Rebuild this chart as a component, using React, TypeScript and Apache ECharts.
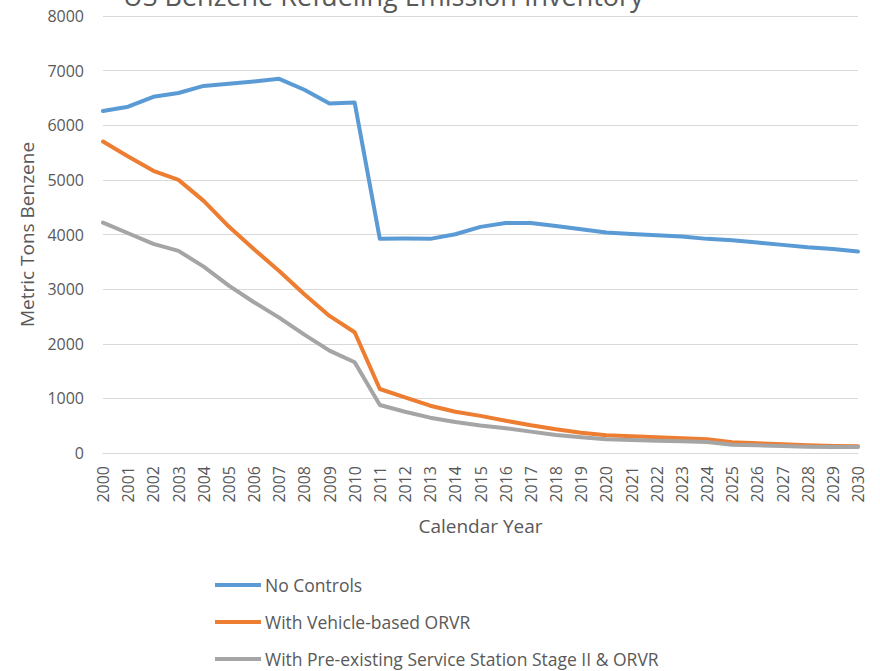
import React, { useEffect, useRef } from "react";
import * as echarts from "echarts";

const years = [
  "2000","2001","2002","2003","2004","2005","2006","2007","2008","2009",
  "2010","2011","2012","2013","2014","2015","2016","2017","2018","2019",
  "2020","2021","2022","2023","2024","2025","2026","2027","2028","2029","2030",
];

const noControls = [
  6260, 6340, 6520, 6590, 6720, 6760, 6800, 6850, 6650, 6400,
  6415, 3920, 3925, 3920, 4005, 4140, 4210, 4210, 4157, 4097,
  4035, 4011, 3986, 3962, 3920, 3895, 3852, 3810, 3767, 3736, 3687,
];

const vehicleORVR = [
  5702, 5427, 5165, 5000, 4615, 4145, 3730, 3333, 2906, 2509,
  2210, 1172, 1020, 866, 756, 680, 592, 507, 434, 372,
  324, 305, 287, 269, 251, 196, 178, 159, 141, 130, 125,
];

const stageIIORVR = [
  4218, 4023, 3828, 3700, 3412, 3064, 2760, 2478, 2167, 1874,
  1661, 879, 756, 647, 568, 505, 455, 391, 330, 287,
  251, 238, 226, 214, 201, 152, 141, 128, 115, 110, 108,
];

const seriesNames = [
  "No Controls",
  "With Vehicle-based ORVR",
  "With Pre-existing Service Station Stage II & ORVR",
];

const titleText = "US Benzene Refueling Emission Inventory";

export default function App() {
  const ref = useRef<HTMLDivElement>(null);
  useEffect(() => {
    document.body.style.margin = "0";
    if (!ref.current) return;
    const chart = echarts.init(ref.current, null, { renderer: "svg" });
    const font = "'Open Sans', 'Noto Sans', sans-serif";
    const colors = ["#5B9BD5", "#ED7D31", "#A5A5A5"];
    const data = [noControls, vehicleORVR, stageIIORVR];
    chart.setOption({
      animation: false,
      backgroundColor: "#ffffff",
      textStyle: { fontFamily: font },
      graphic: [
        {
          type: "text",
          left: 123,
          top: -18,
          style: {
            text: titleText,
            fill: "#595959",
            font: `27px ${font}`,
          },
        },
      ],
      grid: { left: 103, right: 22, top: 16, bottom: 218, containLabel: false },
      legend: {
        orient: "vertical",
        left: 215,
        top: 575,
        padding: 0,
        itemWidth: 46,
        itemHeight: 4,
        itemGap: 17,
        icon: "rect",
        textStyle: { fontSize: 17.5, lineHeight: 20, color: "#595959", fontFamily: font, padding: [0, 0, 0, -1] },
        data: seriesNames,
      },
      xAxis: {
        type: "category",
        data: years,
        boundaryGap: false,
        axisLine: { show: true, lineStyle: { color: "#D9D9D9", width: 1 } },
        axisTick: { show: false },
        axisLabel: {
          rotate: 90,
          interval: 0,
          margin: 13,
          fontSize: 16,
          color: "#595959",
          fontFamily: font,
        },
        name: "Calendar Year",
        nameLocation: "middle",
        nameGap: 63,
        nameTextStyle: { fontSize: 19, color: "#595959", fontFamily: font },
      },
      yAxis: {
        type: "value",
        min: 0,
        max: 8000,
        interval: 1000,
        axisLine: { show: false },
        axisTick: { show: false },
        splitLine: { lineStyle: { color: "#D9D9D9", width: 1 } },
        axisLabel: {
          fontSize: 16,
          color: "#595959",
          margin: 19,
          fontFamily: font,
          formatter: (v: number) => String(v),
        },
        name: "Metric Tons Benzene",
        nameLocation: "middle",
        nameGap: 66,
        nameTextStyle: { fontSize: 19, color: "#595959", fontFamily: font },
      },
      series: seriesNames.map((n, i) => ({
        name: n,
        type: "line",
        data: data[i],
        symbol: "none",
        color: colors[i],
        lineStyle: { width: 4, color: colors[i], cap: "round", join: "round" },
        itemStyle: { color: colors[i] },
      })),
    });
    return () => chart.dispose();
  }, []);
  return <div ref={ref} style={{ width: 880, height: 671 }} />;
}
